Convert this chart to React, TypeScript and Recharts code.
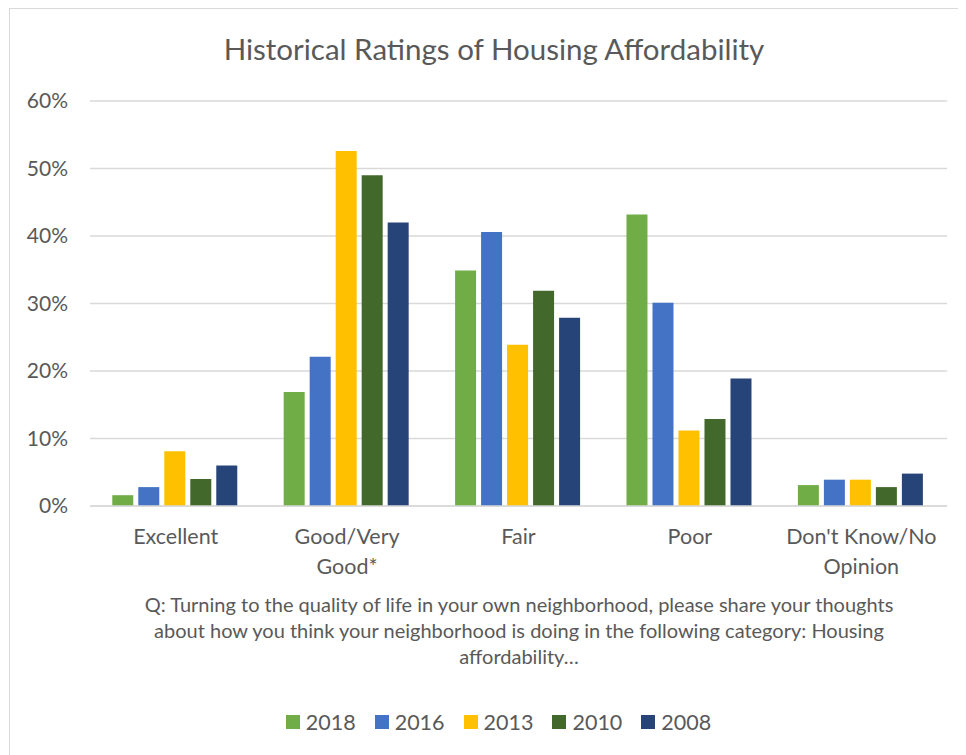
import { Bar, BarChart, CartesianGrid, Legend, XAxis, YAxis } from 'recharts';

const categories = ['Excellent', 'Good/Very Good*', 'Fair', 'Poor', "Don't Know/No Opinion"];
const years = ['2018', '2016', '2013', '2010', '2008'];
const colors = ['#70AD47', '#4472C4', '#FFC000', '#43682B', '#264478'];

const v2018 = [1.6, 16.9, 34.9, 43.2, 3.1];
const v2016 = [2.8, 22.1, 40.6, 30.1, 3.9];
const v2013 = [8.1, 52.6, 23.9, 11.2, 3.9];
const v2010 = [4.0, 49.0, 31.9, 12.9, 2.8];
const v2008 = [6.0, 42.0, 27.9, 18.9, 4.8];
const yTicks = [0, 10, 20, 30, 40, 50, 60];

const title = 'Historical Ratings of Housing Affordability';
const note =
  'Q: Turning to the quality of life in your own neighborhood, please share your thoughts about how you think your neighborhood is doing in the following category: Housing affordability…';

const series = [v2018, v2016, v2013, v2010, v2008];
const data = categories.map((name, i) => {
  const row: Record<string, string | number> = { name };
  years.forEach((y, j) => {
    row[y] = series[j][i];
  });
  return row;
});

const FONT = 'Lato, "Open Sans", sans-serif';
const TEXT = '#595959';

// split a long label at its last space, like Excel wraps it
function CategoryTick(props: any) {
  const { x, y, payload } = props;
  const label: string = payload.value;
  const cut = label.lastIndexOf(' ');
  const lines = cut > 0 ? [label.slice(0, cut), label.slice(cut + 1)] : [label];
  return (
    <text x={x} y={y} textAnchor="middle" fill={TEXT} fontSize={21.5} fontFamily={FONT}>
      {lines.map((l, i) => (
        <tspan key={i} x={x} dy={i === 0 ? 38 : 30}>
          {l}
        </tspan>
      ))}
    </text>
  );
}

function LegendRow() {
  return (
    <div style={{ display: 'flex', justifyContent: 'center', height: 30, alignItems: 'center', paddingLeft: 40 }}>
      {years.map((y, i) => (
        <div key={y} style={{ display: 'flex', alignItems: 'center', marginRight: i < years.length - 1 ? 19 : 0 }}>
          <span style={{ width: 14, height: 14, background: colors[i], display: 'inline-block', marginRight: 6 }} />
          <span style={{ fontSize: 21.5, color: TEXT, fontFamily: FONT }}>{y}</span>
        </div>
      ))}
    </div>
  );
}

export default function App() {
  return (
    <div
      style={{
        position: 'relative',
        width: 953,
        height: 760,
        marginLeft: 1,
        border: '1px solid #d9d9d9',
        background: '#fff',
        fontFamily: FONT,
      }}
    >
      <div
        style={{
          position: 'absolute',
          top: 22,
          left: 0,
          width: 968,
          textAlign: 'center',
          fontSize: 29.5,
          color: TEXT,
        }}
      >
        {title}
      </div>
      <BarChart
        width={953}
        height={750}
        data={data}
        margin={{ top: 92, right: 16, left: 0, bottom: 22 }}
        barCategoryGap="13%"
        barGap={5}
      >
        <CartesianGrid vertical={false} stroke="#d9d9d9" strokeWidth={1.5} />
        <XAxis
          dataKey="name"
          height={201}
          axisLine={{ stroke: '#d9d9d9', strokeWidth: 1.5 }}
          tickLine={false}
          tickSize={0}
          tickMargin={0}
          interval={0}
          tick={<CategoryTick />}
        />
        <YAxis
          width={80}
          domain={[0, 60]}
          ticks={yTicks}
          tickFormatter={(v: number) => `${v}%`}
          axisLine={false}
          tickLine={false}
          tickMargin={16}
          tick={{ fill: TEXT, fontSize: 21, fontFamily: FONT }}
        />
        <Legend verticalAlign="bottom" content={<LegendRow />} />
        {years.map((y, i) => (
          <Bar key={y} dataKey={y} fill={colors[i]} isAnimationActive={false} />
        ))}
      </BarChart>
      <div
        style={{
          position: 'absolute',
          top: 582,
          left: 509 - 385,
          width: 770,
          textAlign: 'center',
          fontSize: 20,
          lineHeight: '26px',
          color: TEXT,
        }}
      >
        {note}
      </div>
    </div>
  );
}
